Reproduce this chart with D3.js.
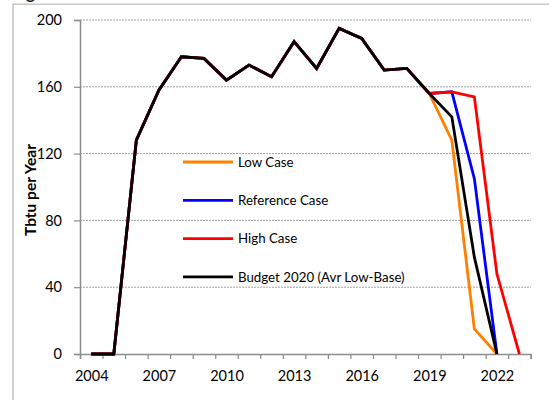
<!DOCTYPE html>
<html>
<head>
<meta charset="utf-8">
<script src="https://cdn.jsdelivr.net/npm/d3@7"></script>
<style>
  body { margin: 0; background: #fff; }
  svg { display: block; font-family: Lato, "Open Sans", sans-serif; }
</style>
</head>
<body>
<div id="chart"></div>
<script>
// chart values
var years = [2004, 2005, 2006, 2007, 2008, 2009, 2010, 2011, 2012, 2013,
             2014, 2015, 2016, 2017, 2018, 2019, 2020, 2021, 2022, 2023];

var lowCase =    [0, 0, 128, 158, 178, 177, 164, 173, 166, 187, 171, 195, 189, 170, 171, 156, 128, 15, 0, null];
var refCase =    [0, 0, 128, 158, 178, 177, 164, 173, 166, 187, 171, 195, 189, 170, 171, 156, 157, 105, 0, null];
var highCase =   [0, 0, 128, 158, 178, 177, 164, 173, 166, 187, 171, 195, 189, 170, 171, 156, 157, 154, 48, 0];
var budget2020 = [0, 0, 128, 158, 178, 177, 164, 173, 166, 187, 171, 195, 189, 170, 171, 156, 142, 58, 0, null];

var yTicks = [0, 40, 80, 120, 160, 200];
var xLabels = [2004, 2007, 2010, 2013, 2016, 2019, 2022];

var series = [
    { name: "Low Case", values: lowCase, color: "#ff8000" },
    { name: "Reference Case", values: refCase, color: "#0000ff" },
    { name: "High Case", values: highCase, color: "#ff0000" },
    { name: "Budget 2020 (Avr Low-Base)", values: budget2020, color: "#000000" }
];

var width = 549;
var height = 400;

var plot = { left: 80, right: 530.7, top: 20, bottom: 354 };

var svg = d3.select("#chart")
    .append("svg")
    .attr("width", width)
    .attr("height", height);

// frame around the chart (cut at the window edges)
svg.append("path")
    .attr("d", "M13,400 V4.3 H549")
    .attr("fill", "none")
    .attr("stroke", "#c8c8c8")
    .attr("stroke-width", 1.6);

// tail of a title cut off above the frame
svg.append("text")
    .attr("x", 26)
    .attr("y", -1)
    .attr("font-size", 17)
    .attr("font-weight", "bold")
    .attr("fill", "#222")
    .text("g");

var x = d3.scaleLinear()
    .domain([years[0] - 0.5, years[years.length - 1] + 0.5])
    .range([plot.left, plot.right]);

var y = d3.scaleLinear()
    .domain([0, 200])
    .range([plot.bottom, plot.top]);

// dotted gridlines
svg.append("g")
    .selectAll("line")
    .data(yTicks.filter(function(d) { return d > 0; }))
    .enter()
    .append("line")
    .attr("x1", plot.left)
    .attr("x2", plot.right)
    .attr("y1", function(d) { return y(d); })
    .attr("y2", function(d) { return y(d); })
    .attr("stroke", "#a0a0a0")
    .attr("stroke-width", 1)
    .attr("stroke-dasharray", "2,1");

// y axis
var yAxis = svg.append("g")
    .attr("transform", "translate(" + plot.left + ",0)")
    .call(d3.axisLeft(y).tickValues(yTicks).tickSize(6).tickPadding(12));

// x axis tick marks between categories
var boundaries = years.map(function(d) { return d - 0.5; });
boundaries.push(years[years.length - 1] + 0.5);

var xAxis = svg.append("g")
    .attr("transform", "translate(0," + plot.bottom + ")")
    .call(d3.axisBottom(x).tickValues(boundaries).tickSize(5).tickFormat(""));

var xLab = svg.append("g")
    .attr("transform", "translate(0," + plot.bottom + ")")
    .call(d3.axisBottom(x).tickValues(xLabels).tickSize(0).tickPadding(17).tickFormat(d3.format("d")));
xLab.select(".domain").remove();

[yAxis, xAxis].forEach(function(ax) {
    ax.select(".domain").attr("stroke", "#8c8c8c").attr("stroke-width", 1.5);
    ax.selectAll(".tick line").attr("stroke", "#8c8c8c").attr("stroke-width", 1.2);
});
[yAxis, xLab].forEach(function(ax) {
    ax.selectAll("text")
        .attr("font-size", 14.5)
        .attr("font-family", "Lato, 'Open Sans', sans-serif")
        .attr("fill", "#000");
});

// axis title
svg.append("text")
    .attr("transform", "translate(36,190)rotate(-90)")
    .attr("text-anchor", "middle")
    .attr("font-size", 15.5)
    .attr("font-weight", "bold")
    .text("Tbtu per Year");

// the lines
var line = d3.line()
    .defined(function(d) { return d.v !== null; })
    .x(function(d) { return x(d.year); })
    .y(function(d) { return y(d.v); });

svg.append("g")
    .selectAll("path")
    .data(series)
    .enter()
    .append("path")
    .attr("fill", "none")
    .attr("stroke", function(d) { return d.color; })
    .attr("stroke-width", 2.8)
    .attr("stroke-linejoin", "miter")
    .attr("d", function(d) {
        return line(d.values.map(function(v, i) { return { year: years[i], v: v }; }));
    });

// legend inside the plot
var legend = svg.append("g")
    .selectAll("g")
    .data(series)
    .enter()
    .append("g")
    .attr("transform", function(d, i) { return "translate(183," + (162 + i * 38.3) + ")"; });

legend.append("line")
    .attr("x1", 0)
    .attr("x2", 50)
    .attr("stroke", function(d) { return d.color; })
    .attr("stroke-width", 2.8);

legend.append("text")
    .attr("x", 55)
    .attr("dy", "0.35em")
    .attr("font-size", 13.3)
    .text(function(d) { return d.name; });
</script>
</body>
</html>
